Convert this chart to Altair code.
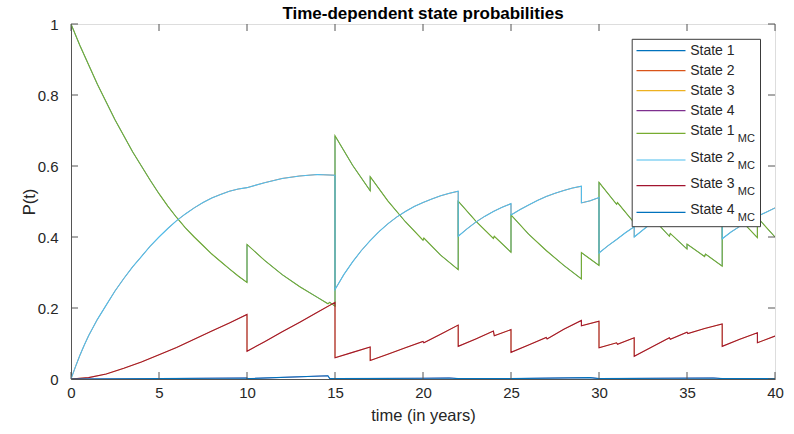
import altair as alt
import pandas as pd

# ---------------- data ----------------
x_ticks = [0, 5, 10, 15, 20, 25, 30, 35, 40]
y_ticks = [0, 0.2, 0.4, 0.6, 0.8, 1]

s1_t = [0, 0.5, 1, 1.5, 2, 2.5, 3, 3.5, 4, 4.5, 5, 5.5, 6, 6.5, 7, 7.5, 8, 8.5, 9, 9.5, 10,
        10, 11, 12, 13, 14, 14.6, 14.7, 15,
        15, 16, 17,
        17, 18, 19, 20, 20.05, 21, 22,
        22, 23, 24, 24.05, 25,
        25, 26, 27, 28, 29,
        29, 29.5, 30,
        30, 31, 31.05, 32,
        32, 33, 34, 34.05, 35,
        35, 36, 36.05, 37,
        37, 38, 39,
        39, 40]
s1_p = [1.0, 0.94, 0.885, 0.83, 0.78, 0.73, 0.685, 0.64, 0.60, 0.56, 0.522, 0.487, 0.455,
        0.426, 0.400, 0.376, 0.352, 0.331, 0.310, 0.290, 0.272,
        0.379, 0.334, 0.294, 0.260, 0.230, 0.212, 0.216, 0.205,
        0.685, 0.602, 0.530,
        0.570, 0.502, 0.443, 0.391, 0.397, 0.349, 0.308,
        0.501, 0.445, 0.396, 0.402, 0.357,
        0.462, 0.408, 0.362, 0.320, 0.282,
        0.356, 0.338, 0.320,
        0.554, 0.492, 0.497, 0.440,
        0.515, 0.455, 0.402, 0.410, 0.366,
        0.380, 0.345, 0.352, 0.318,
        0.512, 0.450, 0.398,
        0.455, 0.400]

s2_t = [0, 0.25, 0.5, 0.75, 1, 1.5, 2, 2.5, 3, 3.5, 4, 4.5, 5, 5.5, 6, 6.5, 7, 7.5, 8,
        8.5, 9, 9.5, 10, 11, 12, 13, 14, 15,
        15, 15.5, 16, 16.5, 17, 17.5, 18, 18.5, 19, 19.5, 20, 20.5, 21, 21.5, 22,
        22, 22.5, 23, 23.5, 24, 24.5, 25,
        25, 25.5, 26, 26.5, 27, 27.5, 28, 28.5, 29,
        29, 29.5, 30,
        30, 30.5, 31, 31.5, 32,
        32, 33, 34, 35, 36, 37,
        37, 37.5, 38, 38.5, 39, 39.5, 40]
s2_p = [0, 0.034, 0.066, 0.095, 0.122, 0.168, 0.208, 0.248, 0.283, 0.316, 0.345, 0.374,
        0.400, 0.424, 0.446, 0.465, 0.482, 0.497, 0.510, 0.520, 0.529, 0.535, 0.539,
        0.553, 0.565, 0.572, 0.576, 0.574,
        0.252, 0.294, 0.330, 0.362, 0.390, 0.415, 0.437, 0.456, 0.472, 0.486, 0.497,
        0.507, 0.516, 0.523, 0.529,
        0.402, 0.423, 0.442, 0.458, 0.472, 0.484, 0.494,
        0.462, 0.477, 0.490, 0.503, 0.514, 0.523, 0.531, 0.538, 0.543,
        0.496, 0.502, 0.511,
        0.355, 0.375, 0.393, 0.412, 0.429,
        0.400, 0.440, 0.470, 0.495, 0.515, 0.530,
        0.395, 0.414, 0.430, 0.445, 0.458, 0.470, 0.482]

s3_t = [0, 1, 2, 3, 4, 5, 6, 7, 8, 9, 10,
        10, 11, 12, 13, 14, 15,
        15, 16, 17,
        17, 18, 19, 20, 20.05, 21, 22,
        22, 23, 24, 24.05, 25,
        25, 26, 27, 27.05, 28, 29,
        29, 30,
        30, 31, 31.05, 32,
        32, 33, 34, 34.05, 35, 35.05, 36, 37,
        37, 38, 39,
        39, 40]
s3_p = [0, 0.004, 0.014, 0.030, 0.048, 0.068, 0.089, 0.112, 0.135, 0.158, 0.182,
        0.078, 0.105, 0.133, 0.160, 0.188, 0.216,
        0.060, 0.075, 0.090,
        0.052, 0.070, 0.088, 0.106, 0.102, 0.126, 0.152,
        0.092, 0.113, 0.135, 0.122, 0.139,
        0.075, 0.096, 0.117, 0.113, 0.140, 0.165,
        0.150, 0.163,
        0.088, 0.102, 0.098, 0.116,
        0.064, 0.090, 0.116, 0.112, 0.132, 0.128, 0.142, 0.155,
        0.092, 0.112, 0.130,
        0.102, 0.121]

s4_t = [0, 5, 10, 10, 14.6, 14.7, 15, 20, 21.5, 22, 25, 29.5, 30, 36.5, 37, 40]
s4_p = [0, 0.001, 0.003, 0.001, 0.009, 0.001, 0.001, 0.002, 0.003, 0.001, 0.001,
        0.004, 0.001, 0.003, 0.001, 0.001]

names = ["State 1", "State 2", "State 3", "State 4",
         "State 1", "State 2", "State 3", "State 4"]
subs = ["", "", "", "", "MC", "MC", "MC", "MC"]
colors = ["#0072BD", "#D95319", "#EDB120", "#7E2F8E",
          "#77AC30", "#4DBEEE", "#A2142F", "#0072BD"]
series_t = [s1_t, s2_t, s3_t, s4_t, s1_t, s2_t, s3_t, s4_t]
series_p = [s1_p, s2_p, s3_p, s4_p, s1_p, s2_p, s3_p, s4_p]
title_text = "Time-dependent state probabilities"

# ---------------- layout ----------------
W, H = 704, 355
FONT = "Liberation Sans"
TXT = "#262626"
FRAME = "#555555"

x_scale = alt.Scale(domain=[0, 40], nice=False, zero=False)
y_scale = alt.Scale(domain=[0, 1], nice=False, zero=False)

x_axis = alt.Axis(values=x_ticks, tickSize=0, labelFontSize=15, labelColor=TXT,
                  labelPadding=6, labelFont=FONT, labelFlush=False,
                  domainColor=FRAME, grid=False,
                  title="time (in years)", titleFont=FONT, titleFontSize=16.5,
                  titleFontWeight="normal", titleColor=TXT, titleY=36,
                  titleBaseline="middle", titleX=W / 2)
y_axis = alt.Axis(values=y_ticks, format="~g", tickSize=0, labelFontSize=15,
                  labelColor=TXT, labelPadding=13, labelFont=FONT, labelFlush=False,
                  domainColor=FRAME, grid=False,
                  title="P(t)", titleFont=FONT, titleFontSize=16.5,
                  titleFontWeight="normal", titleColor=TXT, titleX=-42,
                  titleY=H / 2, titleBaseline="middle", titleAlign="center")

layers = []
for k, (t, p, c) in enumerate(zip(series_t, series_p, colors)):
    df = pd.DataFrame({"t": t, "p": p, "i": list(range(len(t)))})
    sw = 0.7 if k < 4 else 1.1
    layers.append(
        alt.Chart(df).mark_line(color=c, strokeWidth=sw, clip=True).encode(
            x=alt.X("t:Q", scale=x_scale, axis=x_axis),
            y=alt.Y("p:Q", scale=y_scale, axis=y_axis),
            order=alt.Order("i:Q"),
        )
    )

# inward ticks on all four sides (MATLAB box style)
xt = pd.DataFrame({"t": x_ticks})
yt = pd.DataFrame({"p": y_ticks})
tick_x = alt.X("t:Q", scale=x_scale, axis=x_axis)
tick_y = alt.Y("p:Q", scale=y_scale, axis=y_axis)
layers.append(alt.Chart(xt).mark_rule(color=FRAME, strokeWidth=1).encode(
    x=tick_x, y=alt.value(H), y2=alt.value(H - 7)))
layers.append(alt.Chart(xt).mark_rule(color=FRAME, strokeWidth=1).encode(
    x=tick_x, y=alt.value(0), y2=alt.value(7)))
layers.append(alt.Chart(yt).mark_rule(color=FRAME, strokeWidth=1).encode(
    y=tick_y, x=alt.value(0), x2=alt.value(7)))
layers.append(alt.Chart(yt).mark_rule(color=FRAME, strokeWidth=1).encode(
    y=tick_y, x=alt.value(W), x2=alt.value(W - 7)))

one = pd.DataFrame({"k": [0]})

# title as a text mark so its position is exact
layers.append(alt.Chart(one).mark_text(
    align="center", baseline="alphabetic", font=FONT, fontSize=17,
    fontWeight="bold", color="#000000").encode(
    x=alt.value(W / 2), y=alt.value(-5.5), text=alt.value(title_text)))

# custom legend (needs subscripts)
LX0, LX1, LY0, LY1 = 561.2, 689.5, 15.3, 202.7
layers.append(alt.Chart(one).mark_rect(fill="white", stroke="#3a3a3a", strokeWidth=1).encode(
    x=alt.value(LX0), x2=alt.value(LX1), y=alt.value(LY0), y2=alt.value(LY1)))
row_y = [26.7, 46.7, 66.7, 86.7, 109.3, 136.0, 161.7, 188.3]
for i in range(8):
    ry = row_y[i]
    layers.append(alt.Chart(one).mark_rule(color=colors[i], strokeWidth=1.2).encode(
        x=alt.value(565.5), x2=alt.value(614.5), y=alt.value(ry)))
    main_y = ry + 0.5 if subs[i] == "" else ry - 2
    layers.append(alt.Chart(one).mark_text(
        align="left", baseline="middle", font=FONT, fontSize=14, color=TXT).encode(
        x=alt.value(619.2), y=alt.value(main_y), text=alt.value(names[i])))
    if subs[i]:
        layers.append(alt.Chart(one).mark_text(
            align="left", baseline="middle", font=FONT, fontSize=11, color=TXT).encode(
            x=alt.value(666.8), y=alt.value(ry + 6), text=alt.value(subs[i])))

chart = alt.layer(*layers).properties(
    width=W, height=H,
    autosize=alt.AutoSizeParams(type="none"),
    padding={"left": 71, "top": 24, "right": 19, "bottom": 55},
).configure_view(stroke=FRAME, strokeWidth=1).configure(background="white")

chart.save("out.html", embed_options={"renderer": "svg", "actions": False})
